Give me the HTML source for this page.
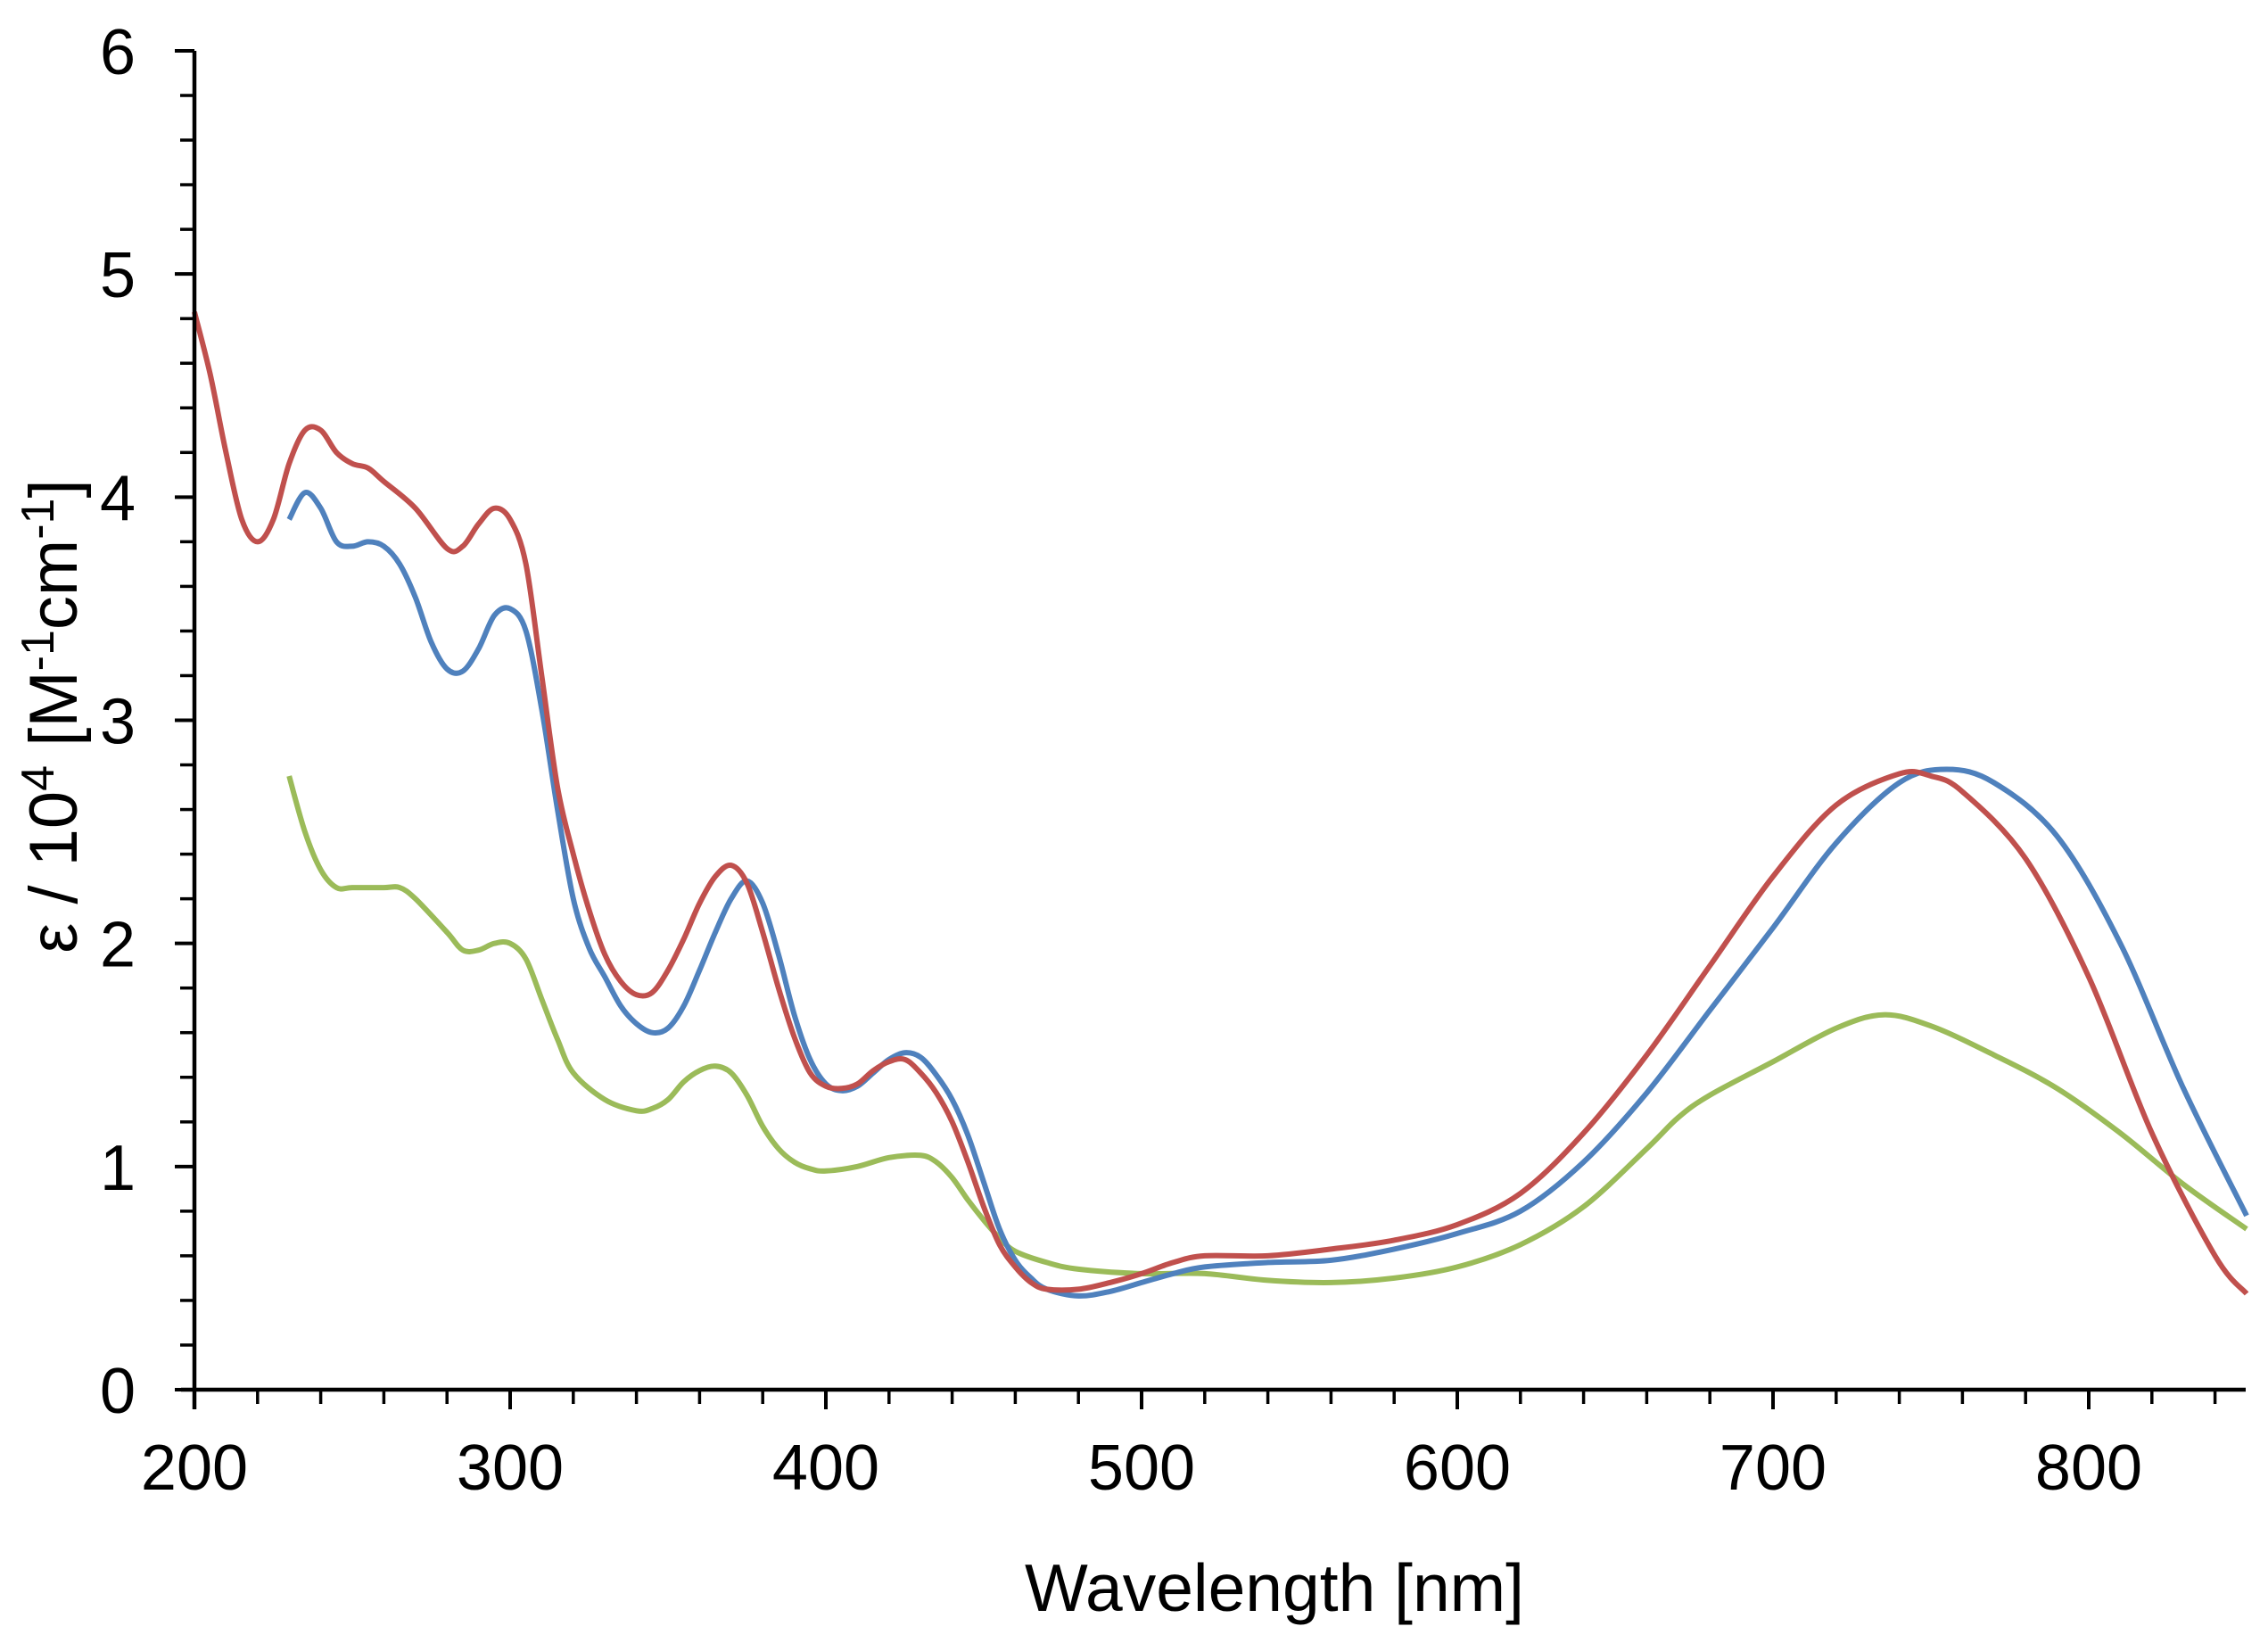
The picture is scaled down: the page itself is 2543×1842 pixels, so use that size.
<!DOCTYPE html>
<html><head><meta charset="utf-8"><style>html,body{margin:0;padding:0;background:#fff}svg{display:block}</style></head>
<body>
<svg id="chart" width="2543" height="1842" viewBox="0 0 2543 1842" xmlns="http://www.w3.org/2000/svg" font-family="Liberation Sans, Arial, sans-serif">
<rect width="2543" height="1842" fill="#fff"/>
<g id="series"></g>
<g id="axes"></g>
<text x="1429" y="1806" font-size="75" text-anchor="middle">Wavelength [nm]</text>
<text transform="translate(86,803) rotate(-90)" font-size="76" text-anchor="middle">ε / 10<tspan dy="-26" font-size="52">4</tspan><tspan dy="26"> [M</tspan><tspan dy="-26" font-size="52">-1</tspan><tspan dy="26">cm</tspan><tspan dy="-26" font-size="52">-1</tspan><tspan dy="26">]</tspan></text>
</svg>
<script>
const xTicks=[200,300,400,500,600,700,800];
const yTicks=[0,1,2,3,4,5,6];
const redX=[200,205,210,215,220,225,230,235,240,245,250,255,260,270,280,285,290,295,300,305,310,315,320,325,330,335,340,345,350,355,360,365,370,375,380,385,390,395,400,405,410,415,420,425,430,435,440,445,450,455,460,465,470,480,490,500,510,520,540,560,580,600,620,640,660,680,700,720,740,750,760,780,800,820,840,850];
const redY=[4.83,4.55,4.2,3.9,3.8,3.9,4.15,4.3,4.3,4.2,4.15,4.13,4.07,3.95,3.77,3.78,3.88,3.95,3.9,3.7,3.2,2.7,2.4,2.15,1.95,1.83,1.77,1.78,1.88,2.02,2.18,2.3,2.35,2.27,2.05,1.8,1.58,1.42,1.36,1.35,1.37,1.43,1.47,1.48,1.42,1.33,1.2,1.02,0.82,0.65,0.55,0.48,0.45,0.45,0.48,0.52,0.57,0.6,0.6,0.63,0.67,0.74,0.88,1.15,1.5,1.9,2.3,2.62,2.76,2.75,2.68,2.38,1.85,1.15,0.6,0.43];
const blueX=[230,235,240,245,250,255,260,265,270,275,280,285,290,295,300,305,310,315,320,325,330,335,340,345,350,355,360,365,370,375,380,385,390,395,400,405,410,415,420,425,430,435,440,445,450,455,460,465,470,480,490,500,510,520,540,560,580,600,620,640,660,680,700,720,740,755,770,790,810,830,850];
const blueY=[3.9,4.02,3.95,3.8,3.78,3.8,3.78,3.7,3.55,3.35,3.23,3.22,3.32,3.47,3.5,3.4,3.05,2.6,2.2,1.98,1.85,1.72,1.64,1.6,1.62,1.72,1.88,2.05,2.2,2.28,2.18,1.95,1.68,1.48,1.37,1.34,1.36,1.42,1.48,1.51,1.49,1.41,1.3,1.14,0.93,0.72,0.58,0.5,0.45,0.42,0.44,0.48,0.52,0.55,0.57,0.58,0.63,0.7,0.8,1.02,1.33,1.7,2.07,2.45,2.72,2.78,2.72,2.48,2.0,1.35,0.78];
const greenX=[230,235,240,245,250,260,265,270,280,285,290,295,300,305,310,315,320,330,340,345,350,355,360,365,370,375,380,385,390,395,400,410,420,430,435,440,445,450,455,460,470,480,500,520,540,560,580,600,620,640,660,670,680,700,720,735,750,770,790,810,830,850];
const greenY=[2.75,2.5,2.33,2.25,2.25,2.25,2.25,2.2,2.05,1.97,1.97,2.0,2.0,1.93,1.75,1.57,1.42,1.3,1.25,1.26,1.3,1.38,1.43,1.45,1.42,1.32,1.18,1.08,1.02,0.99,0.98,1.0,1.04,1.05,1.02,0.95,0.85,0.76,0.68,0.62,0.57,0.54,0.52,0.52,0.49,0.48,0.5,0.55,0.65,0.82,1.08,1.22,1.32,1.47,1.62,1.68,1.63,1.5,1.35,1.15,0.92,0.72];

const NS='http://www.w3.org/2000/svg';
const X0=218,X1=2342,Y0=1558,Y6=57;
function sx(v){return X0+(v-200)*(X1-X0)/600;}
function sy(v){return Y0+(v)*(Y6-Y0)/6;}
function mk(tag,attrs,parent){const e=document.createElementNS(NS,tag);for(const k in attrs)e.setAttribute(k,attrs[k]);parent.appendChild(e);return e;}
const axes=document.getElementById('axes');
const series=document.getElementById('series');

function smoothPath(xs,ys){
  const p=xs.map((x,i)=>[sx(x),sy(ys[i])]);
  let d='M'+p[0][0].toFixed(1)+','+p[0][1].toFixed(1);
  for(let i=0;i<p.length-1;i++){
    const a=p[i-1]||p[i],b=p[i],c=p[i+1],e=p[i+2]||c;
    const c1=[b[0]+(c[0]-a[0])/6,b[1]+(c[1]-a[1])/6];
    const c2=[c[0]-(e[0]-b[0])/6,c[1]-(e[1]-b[1])/6];
    d+=' C'+c1[0].toFixed(1)+','+c1[1].toFixed(1)+' '+c2[0].toFixed(1)+','+c2[1].toFixed(1)+' '+c[0].toFixed(1)+','+c[1].toFixed(1);
  }
  return d;
}
const gp=mk('path',{d:smoothPath(greenX,greenY),fill:'none',stroke:'#9bbb59','stroke-width':6,'stroke-linejoin':'round'},series);


const bp=mk('path',{d:smoothPath(blueX,blueY),fill:'none',stroke:'#4f81bd','stroke-width':6,'stroke-linejoin':'round'},series);


const rp=mk('path',{d:smoothPath(redX,redY),fill:'none',stroke:'#c0504d','stroke-width':6,'stroke-linejoin':'round'},series);



const xl=mk('line',{x1:X0-15,y1:Y0,x2:2518,y2:Y0,stroke:'#000','stroke-width':4.5},axes);


const yl=mk('line',{x1:X0,y1:Y6,x2:X0,y2:Y0+22,stroke:'#000','stroke-width':4.5},axes);


for(let v=220;v<=840;v+=20){
  if(v%100===0)continue;
  const t=mk('line',{x1:sx(v),y1:Y0,x2:sx(v),y2:Y0+16,stroke:'#000','stroke-width':3.5},axes);
  
  
}
xTicks.forEach(v=>{
  const t=mk('line',{x1:sx(v),y1:Y0,x2:sx(v),y2:Y0+22,stroke:'#000','stroke-width':4},axes);
  
  
  const l=mk('text',{x:sx(v),y:1670,'font-size':72,'text-anchor':'middle'},axes);
  l.textContent=String(v);
  
  
});
for(let i=1;i<30;i++){
  if(i%5===0)continue;
  const v=i*0.2;
  const t=mk('line',{x1:X0-16,y1:sy(v),x2:X0,y2:sy(v),stroke:'#000','stroke-width':3.5},axes);
  
  
}
yTicks.forEach(v=>{
  const t=mk('line',{x1:X0-22,y1:sy(v),x2:X0,y2:sy(v),stroke:'#000','stroke-width':4},axes);
  
  
  const l=mk('text',{x:152,y:sy(v)+26,'font-size':72,'text-anchor':'end'},axes);
  l.textContent=String(v);
  
  
});
</script>
</body></html>
